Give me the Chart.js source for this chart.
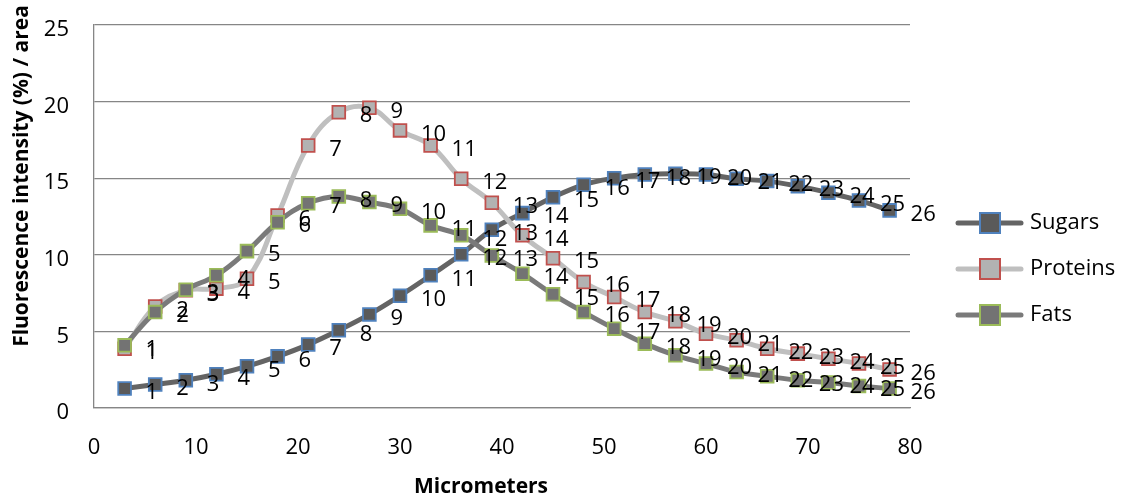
<!DOCTYPE html>
<html>
<head>
<meta charset="utf-8">
<script src="https://cdn.jsdelivr.net/npm/chart.js@4/dist/chart.umd.min.js"></script>
<style>
  html, body { margin: 0; padding: 0; background: #ffffff; }
  #wrap { width: 1122px; height: 501px; position: relative; }
</style>
</head>
<body>
<div id="wrap"><canvas id="c" width="1122" height="501"></canvas></div>
<script>
// ---- Data ----
const micrometers = [3, 6, 9, 12, 15, 18, 21, 24, 27, 30, 33, 36, 39, 42, 45, 48, 51, 54, 57, 60, 63, 66, 69, 72, 75, 78];
const pointLabels = ["1","2","3","4","5","6","7","8","9","10","11","12","13","14","15","16","17","18","19","20","21","22","23","24","25","26"];
const sugars   = [1.27, 1.53, 1.81, 2.2, 2.72, 3.37, 4.14, 5.07, 6.11, 7.33, 8.66, 10.03, 11.64, 12.72, 13.76, 14.57, 15.0, 15.24, 15.29, 15.24, 14.96, 14.81, 14.48, 14.05, 13.55, 12.9];
const proteins = [3.87, 6.63, 7.68, 7.79, 8.44, 12.57, 17.14, 19.31, 19.6, 18.12, 17.14, 14.96, 13.4, 11.27, 9.78, 8.22, 7.24, 6.26, 5.66, 4.85, 4.42, 3.87, 3.55, 3.22, 2.9, 2.52];
const fats     = [4.09, 6.26, 7.72, 8.66, 10.24, 12.13, 13.37, 13.81, 13.44, 13.0, 11.92, 11.27, 9.96, 8.77, 7.42, 6.26, 5.18, 4.2, 3.44, 2.9, 2.35, 2.07, 1.81, 1.66, 1.44, 1.27];
const seriesNames = ["Sugars", "Proteins", "Fats"];
const xTicks = [0, 10, 20, 30, 40, 50, 60, 70, 80];
const yTicks = [0, 5, 10, 15, 20, 25];
const xTitle = "Micrometers";
const yTitle = "Fluorescence intensity (%) / area";

// ---- Styles ----
const styles = [
  { line: "#646464", fill: "#5a5a5a", edge: "#4f81bd" },
  { line: "#bfbfbf", fill: "#b2b2b2", edge: "#c0504d" },
  { line: "#7a7a7a", fill: "#737373", edge: "#9bbb59" }
];
const FONT = "'Open Sans', 'DejaVu Sans', sans-serif";

function toPoints(ys) { return micrometers.map((x, i) => ({ x: x, y: ys[i] })); }

const allSeries = [sugars, proteins, fats];
const datasets = allSeries.map((ys, k) => ({
  label: seriesNames[k],
  data: toPoints(ys),
  borderColor: styles[k].line,
  backgroundColor: styles[k].fill,
  borderWidth: 5,
  borderJoinStyle: "round",
  borderCapStyle: "round",
  tension: 0.4,
  pointStyle: "rect",
  pointRadius: 9,
  pointHoverRadius: 9,
  pointBackgroundColor: styles[k].fill,
  pointBorderColor: styles[k].edge,
  pointBorderWidth: 1.8,
  order: 2 - k,
  fill: false
}));

const labelPlugin = {
  id: "pointIndexLabels",
  afterDatasetsDraw(chart) {
    const ctx = chart.ctx;
    ctx.save();
    ctx.font = "22px " + FONT;
    ctx.fillStyle = "#000";
    ctx.textAlign = "left";
    ctx.textBaseline = "middle";
    chart.data.datasets.forEach((ds, di) => {
      const meta = chart.getDatasetMeta(di);
      meta.data.forEach((pt, i) => {
        ctx.fillText(pointLabels[i], pt.x + 21, pt.y + 4);
      });
    });
    ctx.restore();
  }
};

const decorPlugin = {
  id: "decor",
  afterDraw(chart) {
    const ctx = chart.ctx;
    ctx.save();
    // axis titles
    ctx.fillStyle = "#000";
    ctx.font = "bold 21px " + FONT;
    ctx.textAlign = "center";
    ctx.textBaseline = "middle";
    ctx.fillText(xTitle, 481, 487);
    ctx.save();
    ctx.translate(22, 176);
    ctx.rotate(-Math.PI / 2);
    ctx.fillText(yTitle, 0, 0);
    ctx.restore();
    // legend
    const ys = [223, 269, 315];
    seriesNames.forEach((name, k) => {
      const y = ys[k];
      ctx.strokeStyle = styles[k].line;
      ctx.lineWidth = 5;
      ctx.lineCap = "round";
      ctx.beginPath();
      ctx.moveTo(958, y);
      ctx.lineTo(1021, y);
      ctx.stroke();
      ctx.fillStyle = styles[k].fill;
      ctx.fillRect(980, y - 10, 20, 20);
      ctx.strokeStyle = styles[k].edge;
      ctx.lineWidth = 2;
      ctx.strokeRect(980, y - 10, 20, 20);
      ctx.fillStyle = "#000";
      ctx.font = "22px " + FONT;
      ctx.textAlign = "left";
      ctx.textBaseline = "middle";
      ctx.fillText(name, 1030, y);
    });
    ctx.restore();
  }
};

new Chart(document.getElementById("c"), {
  type: "line",
  data: { datasets: datasets },
  options: {
    responsive: false,
    animation: false,
    layout: { padding: { left: 0, top: 25, right: 212, bottom: 0 } },
    plugins: { legend: { display: false }, tooltip: { enabled: false } },
    scales: {
      x: {
        type: "linear",
        min: 0, max: 80,
        afterFit(s) { s.height = 93; s.paddingLeft = 0; s.paddingRight = 0; },
        afterBuildTicks(s) { s.ticks = xTicks.map(v => ({ value: v })); },
        grid: { display: false, drawTicks: false },
        border: { display: true, color: "#868686", width: 1.3 },
        ticks: { color: "#000", font: { family: FONT, size: 22 }, padding: 27, maxRotation: 0 }
      },
      y: {
        type: "linear",
        min: 0, max: 25,
        afterFit(s) { s.width = 94; s.paddingTop = 0; s.paddingBottom = 0; },
        afterBuildTicks(s) { s.ticks = yTicks.map(v => ({ value: v })); },
        grid: { display: true, drawTicks: false, color: "#868686", lineWidth: 1.3 },
        border: { display: true, color: "#868686", width: 1.3 },
        ticks: { color: "#000", font: { family: FONT, size: 22 }, padding: 25, labelOffset: 5 }
      }
    }
  },
  plugins: [labelPlugin, decorPlugin]
});
</script>
</body>
</html>
